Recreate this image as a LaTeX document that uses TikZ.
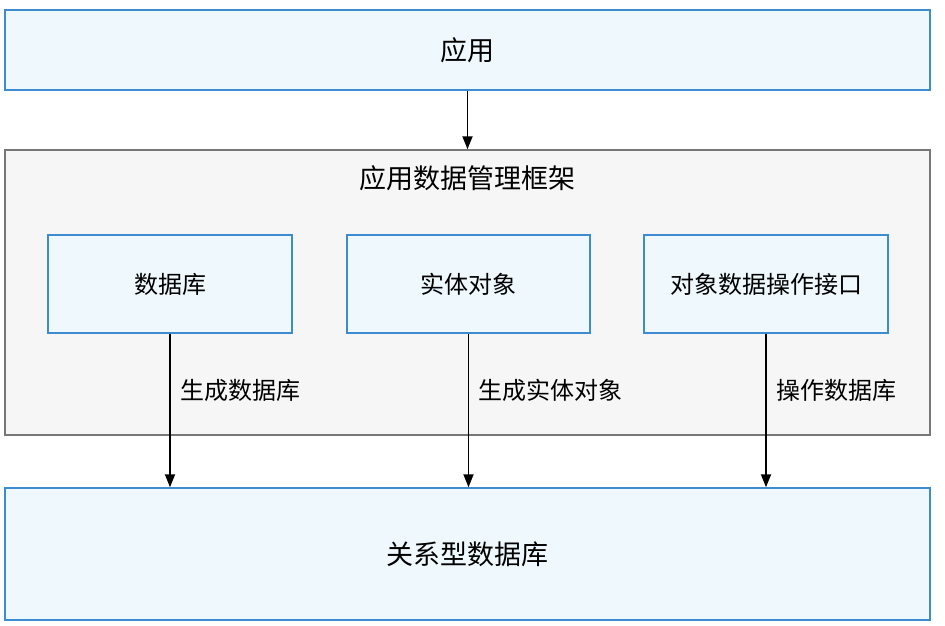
\documentclass[tikz,border=0pt]{standalone}
\usepackage{fontspec}
\setmainfont{Noto Sans CJK SC}
\usetikzlibrary{arrows.meta}
\definecolor{boxblue}{HTML}{3D8CD0}
\definecolor{boxfill}{HTML}{EEF8FD}
\definecolor{framegray}{HTML}{777777}
\definecolor{framefill}{HTML}{F7F6F7}
\tikzset{
	bluebox/.style={draw=boxblue,fill=boxfill,line width=1.5pt,inner sep=0pt,font=\fontsize{24}{28}\selectfont},
	arr/.style={-{Triangle[length=13pt,width=10pt]},line width=1.8pt}
}
\begin{document}
\begin{tikzpicture}[x=1pt,y=-1pt]
	\useasboundingbox (0,0) rectangle (945,625);
	\node[bluebox,minimum width=925,minimum height=80,font=\fontsize{27}{31}\selectfont] (app) at (467.5,50) {应用};
	\node[draw=framegray,fill=framefill,line width=1.5pt,minimum width=925,minimum height=285,inner sep=0pt] (frame) at (467.5,292.5) {};
	\node[font=\fontsize{27}{31}\selectfont] (title) at (467.5,178) {应用数据管理框架};
	\node[bluebox,minimum width=244,minimum height=98] (db) at (170,284) {数据库};
	\node[bluebox,minimum width=243,minimum height=98] (entity) at (468.5,284) {实体对象};
	\node[bluebox,minimum width=244,minimum height=98] (api) at (766,284) {对象数据操作接口};
	\node[bluebox,minimum width=925,minimum height=132,font=\fontsize{27}{31}\selectfont] (rdb) at (467.5,554) {关系型数据库};
	
	\draw[arr] (app) -- (frame);
	\draw[arr] (db) -- (db |- rdb.north) node[pos=0.37,right=6pt,font=\fontsize{24}{28}\selectfont] {生成数据库};
	\draw[arr] (entity) -- (entity |- rdb.north) node[pos=0.37,right=6pt,font=\fontsize{24}{28}\selectfont] {生成实体对象};
	\draw[arr] (api) -- (api |- rdb.north) node[pos=0.37,right=6pt,font=\fontsize{24}{28}\selectfont] {操作数据库};
\end{tikzpicture}
\end{document}
